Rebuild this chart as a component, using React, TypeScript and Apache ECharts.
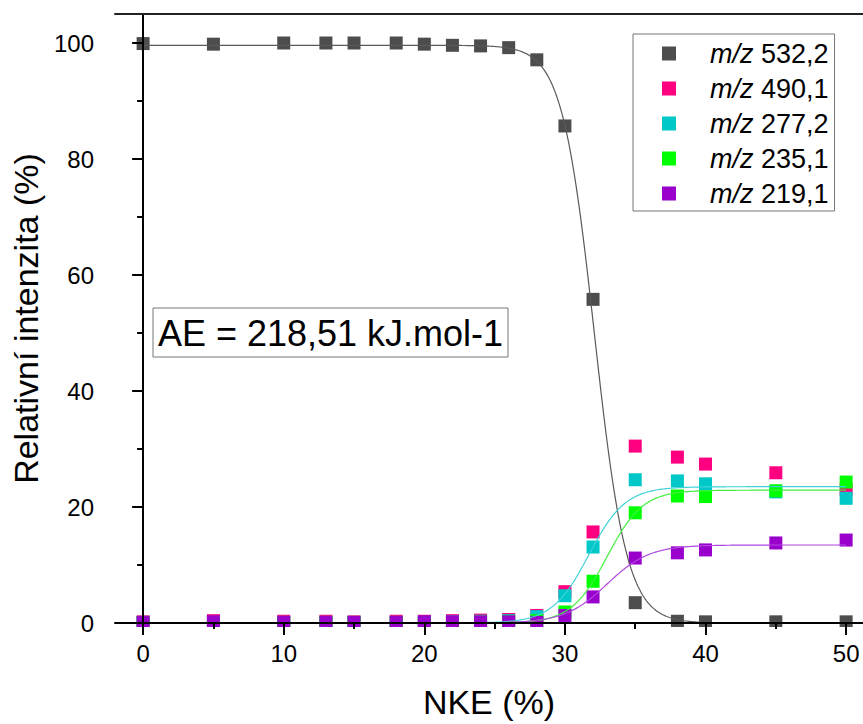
import React, { useEffect, useRef } from "react";
import * as echarts from "echarts";

// Collision energy (NKE, %) at which each spectrum was recorded
const NKE = [0, 5, 10, 13, 15, 18, 20, 22, 24, 26, 28, 30, 32, 35, 38, 40, 45, 50];

// Relative intensities (%) of the precursor and its fragments
const MZ_532 = [99.9, 99.8, 100, 100, 100, 100, 99.8, 99.6, 99.5, 99.2, 97.1, 85.7, 55.8, 3.5, 0.3, 0.2, 0.2, 0.2];
const MZ_490 = [0.2, 0.4, 0.3, 0.3, 0.2, 0.3, 0.3, 0.4, 0.5, 0.6, 1.3, 5.4, 15.7, 30.5, 28.6, 27.4, 25.9, 23.0];
const MZ_277 = [0.1, 0.1, 0.1, 0.1, 0.1, 0.1, 0.1, 0.2, 0.3, 0.4, 1.1, 4.7, 13.1, 24.7, 24.5, 24.0, 22.6, 21.5];
const MZ_235 = [0.1, 0.1, 0.1, 0.1, 0.1, 0.1, 0.1, 0.1, 0.2, 0.2, 0.4, 1.9, 7.2, 19.0, 21.9, 21.8, 22.8, 24.3];
const MZ_219 = [0.1, 0.2, 0.1, 0.1, 0.1, 0.1, 0.2, 0.2, 0.2, 0.2, 0.1, 1.3, 4.5, 11.2, 12.1, 12.6, 13.8, 14.3];

const MZ_LABELS = ["532,2", "490,1", "277,2", "235,1", "219,1"];
const SERIES_DATA = [MZ_532, MZ_490, MZ_277, MZ_235, MZ_219];
const SERIES_COLORS = ["#4d4d4d", "#ff0080", "#00c8c8", "#00ff00", "#9900cc"];

// Boltzmann fit parameters [A1, A2, x0, dx] for the fitted ions
const FIT_532 = [99.6, 0, 32.1, 1.15];
const FIT_277 = [0, 23.5, 31.7, 1.3];
const FIT_235 = [0, 22.9, 33.0, 1.27];
const FIT_219 = [0, 13.45, 33.0, 1.5];
const FITS = [
  { params: FIT_532, color: "#5a5a5a" },
  { params: FIT_277, color: "#40d2d8" },
  { params: FIT_235, color: "#40f040" },
  { params: FIT_219, color: "#b048e0" },
];

const X_TICKS = [0, 10, 20, 30, 40, 50];
const X_MINOR = [5, 15, 25, 35, 45];
const Y_TICKS = [0, 20, 40, 60, 80, 100];
const Y_MINOR = [10, 30, 50, 70, 90];

const AE_TEXT = "AE = 218,51 kJ.mol-1";

const FONT = "'Liberation Sans', Arial, sans-serif";

function boltzmannCurve(p: number[]): number[][] {
  const [a1, a2, x0, dx] = p;
  const pts: number[][] = [];
  for (let i = 0; i <= 500; i++) {
    const x = i / 10;
    pts.push([x, a2 + (a1 - a2) / (1 + Math.exp((x - x0) / dx))]);
  }
  return pts;
}

function buildOption() {
  const names = MZ_LABELS.map((m) => "m/z " + m);

  const fitSeries = FITS.map((f, i) => ({
    type: "line",
    name: "fit" + i,
    data: boltzmannCurve(f.params),
    showSymbol: false,
    symbol: "none",
    lineStyle: { color: f.color, width: 1.2 },
    xAxisIndex: 0,
    yAxisIndex: 0,
    silent: true,
  }));

  const pointSeries = SERIES_DATA.map((vals, i) => ({
    type: "scatter",
    name: names[i],
    data: NKE.map((x, j) => [x, vals[j]]),
    symbol: "rect",
    symbolSize: 13,
    itemStyle: { color: SERIES_COLORS[i], opacity: 1 },
    xAxisIndex: 0,
    yAxisIndex: 0,
  }));

  const axisLine = { show: true, lineStyle: { color: "#000", width: 2 } };
  const X_MIN = -2;
  const X_MAX = 51.2;

  return {
    animation: false,
    backgroundColor: "#fff",
    textStyle: { fontFamily: FONT },
    grid: {
      left: 115,
      right: 0,
      top: 14,
      bottom: 98,
    },
    legend: {
      orient: "vertical",
      left: 633,
      top: 34,
      padding: [6, 6, 4, 29],
      itemWidth: 14,
      itemHeight: 14,
      itemGap: 8,
      icon: "rect",
      borderColor: "#777",
      borderWidth: 1,
      backgroundColor: "#fff",
      data: names,
      formatter: (name: string) => "{s|}{i|m/z}{n| " + name.replace("m/z ", "") + "}",
      textStyle: {
        color: "#000",
        fontFamily: FONT,
        rich: {
          s: { width: 29, lineHeight: 28 },
          i: { fontStyle: "italic", fontSize: 27, fontFamily: FONT, color: "#000", lineHeight: 28 },
          n: { fontSize: 27, fontFamily: FONT, color: "#000", lineHeight: 28 },
        },
      },
    },
    xAxis: [
      {
        type: "value",
        min: X_MIN,
        max: X_MAX,
        z: 10,
        axisLine,
        axisTick: { show: true, customValues: X_TICKS, length: 12, lineStyle: { color: "#000", width: 2 } },
        axisLabel: { customValues: X_TICKS, fontSize: 24, margin: 18, color: "#000", fontFamily: FONT },
        splitLine: { show: false },
        name: "NKE (%)",
        nameLocation: "middle",
        nameGap: 62,
        nameTextStyle: { fontSize: 34, color: "#000", fontFamily: FONT },
      },
      {
        type: "value",
        min: X_MIN,
        max: X_MAX,
        position: "bottom",
        z: 10,
        axisLine: { show: false },
        axisTick: { show: true, customValues: X_MINOR, length: 6, lineStyle: { color: "#000", width: 2 } },
        axisLabel: { show: false },
        splitLine: { show: false },
      },
      {
        // top frame line
        type: "value",
        min: X_MIN,
        max: X_MAX,
        position: "top",
        z: 10,
        axisLine: { show: true, lineStyle: { color: "#222", width: 2 } },
        axisTick: { show: false },
        axisLabel: { show: false },
        splitLine: { show: false },
      },
    ],
    yAxis: [
      {
        type: "value",
        min: 0,
        max: 105,
        z: 10,
        axisLine,
        axisTick: { show: true, customValues: Y_TICKS, length: 11, lineStyle: { color: "#000", width: 2 } },
        axisLabel: { customValues: Y_TICKS, fontSize: 24, margin: 21, color: "#000", fontFamily: FONT },
        splitLine: { show: false },
        name: "Relativní intenzita (%)",
        nameLocation: "middle",
        nameGap: 66,
        nameTextStyle: { fontSize: 34, color: "#000", fontFamily: FONT },
      },
      {
        type: "value",
        min: 0,
        max: 105,
        position: "left",
        z: 10,
        axisLine: { show: false },
        axisTick: { show: true, customValues: Y_MINOR, length: 6, lineStyle: { color: "#000", width: 2 } },
        axisLabel: { show: false },
        splitLine: { show: false },
      },
    ],
    graphic: [
      // hides the lower half of markers sitting on the zero line
      {
        type: "rect",
        z: 5,
        silent: true,
        shape: { x: 116, y: 627, width: 760, height: 40 },
        style: { fill: "#fff" },
      },
      {
        type: "group",
        z: 6,
        children: [
          {
            type: "rect",
            shape: { x: 153, y: 308, width: 355, height: 49 },
            style: { fill: "#fff", stroke: "#777", lineWidth: 1 },
          },
          {
            type: "text",
            x: 330.5,
            y: 333,
            style: {
              text: AE_TEXT,
              fill: "#000",
              fontSize: 36,
              fontFamily: FONT,
              align: "center",
              verticalAlign: "middle",
            },
          },
        ],
      },
    ],
    series: [...fitSeries, ...pointSeries],
  };
}

export default function App() {
  const ref = useRef<HTMLDivElement>(null);
  useEffect(() => {
    if (!ref.current) return;
    const chart = echarts.init(ref.current, null, { renderer: "svg" });
    chart.setOption(buildOption() as any);
    return () => chart.dispose();
  }, []);
  return (
    <div
      ref={ref}
      style={{ position: "absolute", left: 0, top: 0, width: 863, height: 724, overflow: "hidden" }}
    />
  );
}
